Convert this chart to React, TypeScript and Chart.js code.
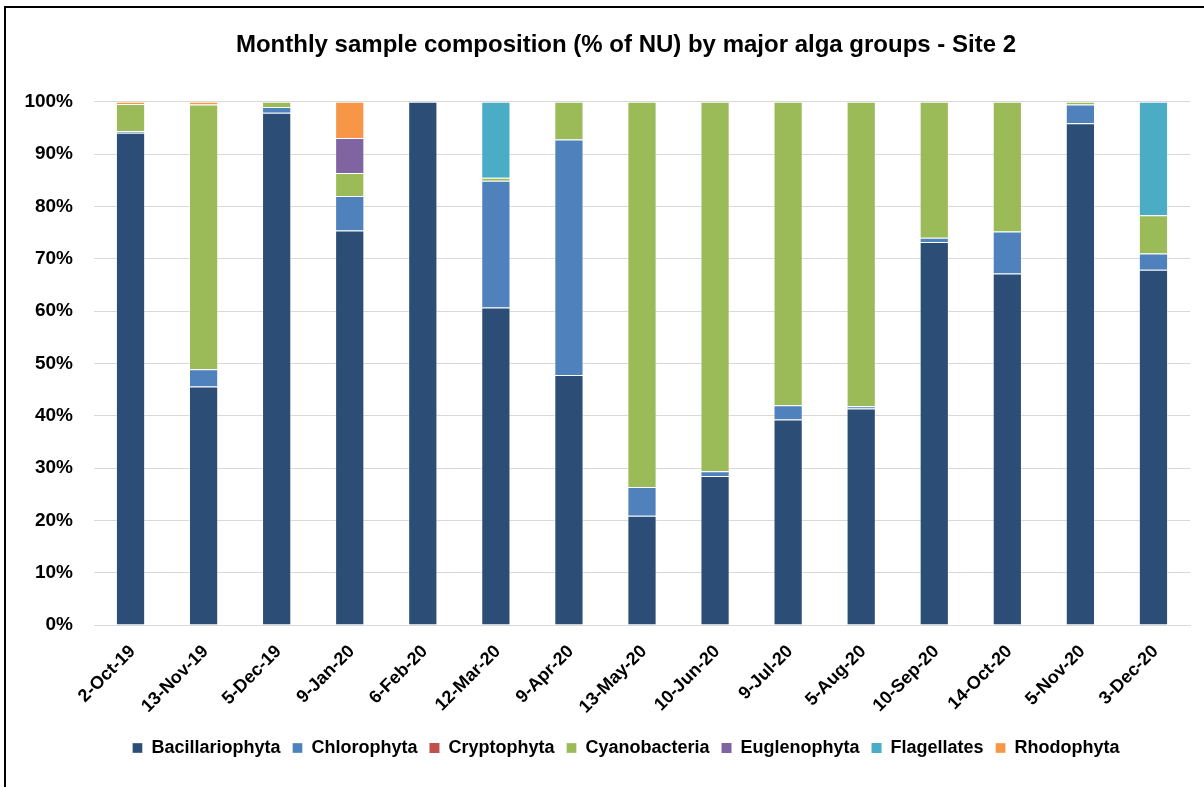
import React, { useEffect, useRef } from "react";
import { Chart, registerables } from "chart.js";

Chart.register(...registerables);

const categories = [
  "2-Oct-19", "13-Nov-19", "5-Dec-19", "9-Jan-20", "6-Feb-20", "12-Mar-20", "9-Apr-20",
  "13-May-20", "10-Jun-20", "9-Jul-20", "5-Aug-20", "10-Sep-20", "14-Oct-20", "5-Nov-20", "3-Dec-20",
];
const bacillariophyta = [94.1, 45.6, 97.9, 75.4, 100, 60.7, 47.8, 20.9, 28.5, 39.3, 41.4, 73.2, 67.2, 95.9, 67.9];
const chlorophyta = [0.3, 3.3, 1.1, 6.6, 0, 24.2, 45.0, 5.5, 0.9, 2.7, 0.4, 0.8, 8.0, 3.6, 3.1];
const cryptophyta = [0, 0, 0, 0, 0, 0, 0, 0, 0, 0, 0, 0, 0, 0, 0];
const cyanobacteria = [5.2, 50.6, 1.0, 4.4, 0, 0.6, 7.2, 73.6, 70.6, 58.0, 58.2, 26.0, 24.8, 0.5, 7.3];
const euglenophyta = [0, 0, 0, 6.7, 0, 0, 0, 0, 0, 0, 0, 0, 0, 0, 0];
const flagellates = [0, 0, 0, 0, 0, 14.5, 0, 0, 0, 0, 0, 0, 0, 0, 21.7];
const rhodophyta = [0.4, 0.5, 0, 6.9, 0, 0, 0, 0, 0, 0, 0, 0, 0, 0, 0];
const yTicks = [0, 10, 20, 30, 40, 50, 60, 70, 80, 90, 100];

const seriesNames = ["Bacillariophyta", "Chlorophyta", "Cryptophyta", "Cyanobacteria", "Euglenophyta", "Flagellates", "Rhodophyta"];
const seriesValues = [bacillariophyta, chlorophyta, cryptophyta, cyanobacteria, euglenophyta, flagellates, rhodophyta];
const seriesColors = ["#2C4D75", "#4F81BD", "#C0504D", "#9BBB59", "#8064A2", "#4BACC6", "#F79646"];

const FONT = "'Liberation Sans', Arial, sans-serif";
const CANVAS_W = 1252;
const CANVAS_H = 787;

export default function App() {
  const ref = useRef<HTMLCanvasElement | null>(null);
  useEffect(() => {
    if (!ref.current) return;
    const chart = new Chart(ref.current, {
      type: "bar",
      data: {
        labels: categories,
        datasets: seriesNames.map((name, i) => ({
          label: name,
          data: seriesValues[i],
          backgroundColor: seriesColors[i],
          borderColor: "rgba(255,255,255,0.35)",
          borderWidth: (c: any) => (c.raw === 0 ? 0 : 1),
          barPercentage: 0.8,
          categoryPercentage: 0.5,
        })),
      },
      options: {
        animation: false,
        responsive: false,
        maintainAspectRatio: false,
        layout: { padding: { left: 0, right: 0, top: 0, bottom: 20 } },
        plugins: {
          tooltip: { enabled: false },
          title: {
            display: true,
            text: "Monthly sample composition (% of NU) by major alga groups - Site 2",
            color: "#000",
            font: { family: FONT, size: 24, weight: "bold", lineHeight: 1.2 },
            padding: { top: 31, bottom: 42 },
          },
          legend: {
            position: "bottom",
            labels: {
              color: "#000",
              font: { family: FONT, size: 18, weight: "bold" },
              boxWidth: 10,
              boxHeight: 10,
              padding: 12,
            },
          },
        },
        scales: {
          x: {
            stacked: true,
            grid: { display: false, drawTicks: false },
            border: { display: true, color: "#d9d9d9", width: 1 },
            ticks: {
              color: "#000",
              font: { family: FONT, size: 18, weight: "bold" },
              minRotation: 45,
              maxRotation: 45,
              padding: 16,
              labelOffset: 2,
            },
            afterFit: (s: any) => {
              s.height = 102;
            },
          },
          y: {
            stacked: true,
            min: 0,
            max: 100,
            grid: { color: "#d9d9d9", lineWidth: 1, drawTicks: false },
            border: { display: false },
            afterBuildTicks: (s: any) => {
              s.ticks = yTicks.map((v) => ({ value: v }));
            },
            ticks: {
              color: "#000",
              font: { family: FONT, size: 19, weight: "bold" },
              padding: 21,
              callback: (v: any) => v + "%",
            },
            afterFit: (s: any) => {
              s.width = 94;
            },
          },
          yPad: {
            type: "linear",
            position: "right",
            display: true,
            min: 0,
            max: 100,
            grid: { display: false, drawTicks: false },
            border: { display: false },
            ticks: { display: false },
            afterFit: (s: any) => {
              s.width = CANVAS_W - 1190;
            },
          },
        },
      },
    });
    return () => chart.destroy();
  }, []);
  return (
    <div style={{ position: "fixed", left: 0, top: 0, width: 1204, height: 787, background: "#fff", overflow: "hidden" }}>
      <canvas
        ref={ref}
        width={CANVAS_W}
        height={CANVAS_H}
        style={{ position: "absolute", left: 0, top: 0, width: CANVAS_W, height: CANVAS_H }}
      />
      <div
        style={{
          position: "absolute",
          left: 4,
          top: 6,
          width: 1260,
          height: 800,
          border: "2px solid #000",
          boxSizing: "border-box",
          pointerEvents: "none",
        }}
      />
    </div>
  );
}
